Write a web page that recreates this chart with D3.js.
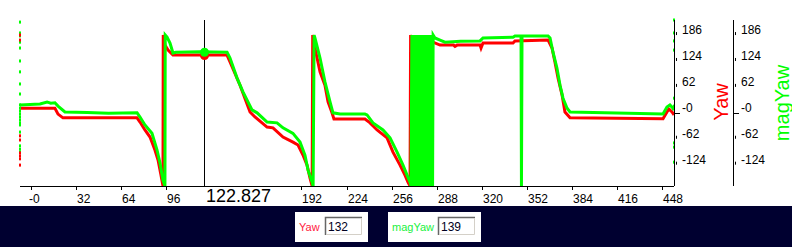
<!DOCTYPE html>
<html lang="en">
<head>
<meta charset="utf-8">
<title>Yaw / magYaw</title>
<script src="https://d3js.org/d3.v7.min.js"></script>
<style>
  body { margin: 0; background: #fff; }
  svg { display: block; }
</style>
</head>
<body>
<script>
// ---- data ----
var xTicks = [0, 32, 64, 96, 128, 160, 192, 224, 256, 288, 320, 352, 384, 416, 448];
var yTicks = [186, 124, 62, 0, -62, -124];

var yawPoints = [
  [-7.8, 11], [17.0, 11], [19.2, -3], [22.7, -12], [75.3, -12], [77.4, -22], [80.9, -41],
  [84.5, -58], [88.0, -89], [90.2, -113], [92.3, -149], [93.7, -175], [93.9, 186],
  [95.1, 162], [97.3, 150], [100.8, 138], [139.2, 138], [141.3, 122], [148.4, 66],
  [155.5, 2], [159.0, -10], [167.6, -34], [171.8, -36], [178.9, -58], [186.0, -70],
  [189.6, -77], [193.1, -101], [196.0, -125], [198.1, -156], [199.6, -175], [200.0, 186],
  [201.6, 155], [205.2, 98], [208.7, 66], [210.9, 26], [213.7, 0], [215.1, -15],
  [237.1, -15], [240.7, -24], [245.7, -41], [252.8, -60], [257.0, -94], [262.0, -125],
  [265.5, -149], [267.7, -166], [269.1, -175], [269.5, 186], [270.2, 174], [285.4, 169],
  [290.4, 162], [300.0, 162], [301.0, 159], [302.5, 162], [318.8, 162], [319.5, 155],
  [320.9, 167], [342.2, 167], [343.6, 172], [367.1, 174], [369.9, 155], [372.0, 121],
  [374.2, 83], [377.0, 43], [379.1, 2], [382.7, -12], [448.7, -14], [451.5, 2],
  [452.9, 9], [455.1, 2], [456.5, -5]
];

var magYawPoints = [
  [-7.8, 19], [6.4, 21], [11.4, 26], [14.0, 23], [17.0, 24], [19.2, 16], [24.1, 2],
  [40.0, 1], [55.0, -1], [75.3, 0], [77.4, -10], [80.9, -29], [85.9, -49], [89.5, -89],
  [91.6, -120], [93.7, -161], [95.1, -175], [95.3, 186], [96.6, 181], [98.7, 167],
  [100.8, 143], [102.9, 145], [120.0, 146], [139.2, 145], [141.3, 131], [146.3, 83],
  [150.5, 50], [156.9, 7], [160.5, 0], [167.6, -22], [174.7, -24], [178.9, -36],
  [186.0, -49], [191.0, -70], [194.5, -101], [196.7, -137], [199.6, -166], [200.3, -175],
  [201.0, 186], [201.6, 179], [205.2, 131], [208.7, 74], [212.3, 26], [214.4, 0],
  [219.4, -3], [237.1, -3], [238.6, -5], [242.8, -24], [249.9, -41], [254.9, -60],
  [259.9, -94], [264.1, -125], [267.0, -149], [269.1, -166], [269.8, -175],
  [270.4, 186], [271.1, -175], [271.8, 186], [272.5, -175], [273.2, 186], [273.9, -175],
  [274.6, 186], [275.3, -175], [276.0, 186], [276.7, -175], [277.4, 186], [278.1, -175],
  [278.8, 186], [279.5, -175], [280.2, 186], [280.9, -175], [281.6, 186], [282.3, -175],
  [283.0, 186], [283.7, -175], [284.4, 186], [285.1, -175], [285.5, 186],
  [286.8, 179], [290.4, 174], [293.9, 169], [305.0, 171], [318.8, 172], [320.9, 179],
  [342.2, 181], [343.6, 184], [347.6, 184], [347.9, 186], [348.2, -175], [348.6, 184],
  [367.1, 184], [368.5, 179], [370.6, 145], [373.4, 107], [375.6, 66], [377.7, 35],
  [380.6, 11], [382.7, 2], [448.7, -3], [451.5, 14], [453.6, 19], [455.8, 11], [456.5, 6]
];

// short marks along the left edge and on the Yaw axis
var yawLeftRug = [186, 174, -55, -65, -96, -103, -110, -125];
var magLeftRug = [217, 191, 184, 169, 155, 124, 98, 69, 45, 19, 11, 4, -3, -10, -17, -24, -29, -46, -79, -87, -94];
var magRightRug = [222, 191, 172, 150, 35, 16, -72, -82, -118];

var cursorX = 122.827;
var cursorYaw = 137;
var cursorMagYaw = 145;
var legendNames = ["Yaw", "magYaw"];
var legendValues = ["132", "139"];

// ---- drawing ----
var font = "Arial, 'Liberation Sans', sans-serif";
var red = "#ff0000", green = "#00ff00";

var svg = d3.select("body").append("svg")
    .attr("width", 792)
    .attr("height", 247);

svg.append("rect").attr("width", 792).attr("height", 206).attr("fill", "#fff");
svg.append("rect").attr("y", 206).attr("width", 792).attr("height", 41).attr("fill", "#000030");

var x = d3.scaleLinear().domain([-7.8, 456.5]).range([20, 674]);
var y = d3.scaleLinear().domain([-175, 222]).range([186, 20]);

svg.append("clipPath").attr("id", "plot")
  .append("rect").attr("x", 20).attr("y", 20).attr("width", 654).attr("height", 166);

var line = d3.line()
    .x(function(d) { return x(d[0]); })
    .y(function(d) { return y(d[1]); });

var plot = svg.append("g").attr("clip-path", "url(#plot)");

plot.append("path").datum(yawPoints)
    .attr("d", line).attr("fill", "none")
    .attr("stroke", red).attr("stroke-width", 3);

plot.append("path").datum(magYawPoints)
    .attr("d", line).attr("fill", "none")
    .attr("stroke", green).attr("stroke-width", 3);

// rug marks
svg.selectAll(".rugL").data(magLeftRug.map(function(v) { return [v, green]; })
      .concat(yawLeftRug.map(function(v) { return [v, red]; })))
  .enter().append("rect")
    .attr("x", x(-7.8) - 1).attr("width", 2).attr("height", 3)
    .attr("y", function(d) { return y(d[0]) - 1.5; })
    .attr("fill", function(d) { return d[1]; });

svg.selectAll(".rugR").data(magRightRug).enter().append("rect")
    .attr("x", x(456.5) - 1).attr("width", 2).attr("height", 3)
    .attr("y", function(d) { return y(d) - 1.5; })
    .attr("fill", green);

// cursor position (its value box hides the tick labels under it)
var cx = Math.round(x(cursorX)) + 0.5;
var boxW = 71;

// bottom axis
svg.append("line").attr("x1", 20).attr("x2", 674).attr("y1", 186.5).attr("y2", 186.5)
    .attr("stroke", "#000");
svg.selectAll(".xt").data(xTicks).enter().append("line")
    .attr("x1", function(d) { return Math.round(x(d)) + 0.5; })
    .attr("x2", function(d) { return Math.round(x(d)) + 0.5; })
    .attr("y1", 186).attr("y2", 190).attr("stroke", "#000");
svg.selectAll(".xl")
    .data(xTicks.filter(function(d) { return x(d) < cx - 20 || x(d) > cx + boxW; }))
  .enter().append("text")
    .attr("x", function(d) { return Math.round(x(d)) - (d === 0 ? 2 : -1); })
    .attr("y", 203)
    .attr("font-family", font).attr("font-size", 12)
    .text(function(d) { return d === 0 ? "-0" : d; });

// right axes
[674, 733].forEach(function(ax) {
  svg.append("line").attr("x1", ax + 0.5).attr("x2", ax + 0.5).attr("y1", 20).attr("y2", 186)
      .attr("stroke", "#000");
  svg.selectAll(null).data(yTicks).enter().append("line")
      .attr("x1", function(d) { return d === 0 ? ax : ax + 2.5; })
      .attr("x2", function(d) { return d === 0 ? ax + 6 : ax + 2.5; })
      .attr("y1", function(d) { return d === 0 ? Math.round(y(d)) + 0.5 : y(d) - 3; })
      .attr("y2", function(d) { return d === 0 ? Math.round(y(d)) + 0.5 : y(d); })
      .attr("stroke", "#000");
  svg.selectAll(null).data(yTicks).enter().append("text")
      .attr("x", ax + 8)
      .attr("y", function(d) { return y(d) - 1; })
      .attr("font-family", font).attr("font-size", 12)
      .text(function(d) { return d === 0 ? "-0" : d; });
});

svg.append("text")
    .attr("transform", "translate(728,102) rotate(-90)")
    .attr("text-anchor", "middle")
    .attr("font-family", font).attr("font-size", 20)
    .attr("fill", red).text("Yaw");
svg.append("text")
    .attr("transform", "translate(789,103) rotate(-90)")
    .attr("text-anchor", "middle")
    .attr("font-family", font).attr("font-size", 20)
    .attr("fill", green).text("magYaw");

// cursor
svg.append("line").attr("x1", cx).attr("x2", cx).attr("y1", 20).attr("y2", 186)
    .attr("stroke", "#000");
svg.append("circle").attr("cx", cx).attr("cy", y(cursorYaw)).attr("r", 4.5).attr("fill", red);
svg.append("circle").attr("cx", cx).attr("cy", y(cursorMagYaw)).attr("r", 4.5).attr("fill", green);
svg.append("rect").attr("x", cx).attr("y", 187).attr("width", boxW).attr("height", 19).attr("fill", "#fff");
svg.append("text").attr("x", cx + 1.5).attr("y", 202)
    .attr("font-family", font).attr("font-size", 18)
    .text(cursorX.toFixed(3));

// value boxes at the bottom
var boxes = [
  { x: 295, w: 73, input: 30, color: "#ff2040" },
  { x: 388, w: 93, input: 50, color: "#20f040" }
];
boxes.forEach(function(b, i) {
  var g = svg.append("g").attr("transform", "translate(" + b.x + ",212)");
  g.append("rect").attr("width", b.w).attr("height", 30).attr("fill", "#fff");
  g.append("text").attr("x", 4).attr("y", 19)
      .attr("font-family", font).attr("font-size", 11)
      .attr("fill", b.color).text(legendNames[i]);
  var ix = b.input;
  g.append("rect").attr("x", ix).attr("y", 5).attr("width", 37).attr("height", 18)
      .attr("fill", "#fff");
  g.append("path").attr("d", "M" + (ix + 0.5) + ",23V5.5H" + (ix + 37))
      .attr("fill", "none").attr("stroke", "#666").attr("stroke-width", 1.5);
  g.append("path").attr("d", "M" + (ix + 1) + ",22.5H" + (ix + 36.5) + "V6")
      .attr("fill", "none").attr("stroke", "#d4d0c8");
  g.append("text").attr("x", ix + 3).attr("y", 19)
      .attr("font-family", font).attr("font-size", 12)
      .attr("fill", "#000020").text(legendValues[i]);
});
</script>
</body>
</html>
